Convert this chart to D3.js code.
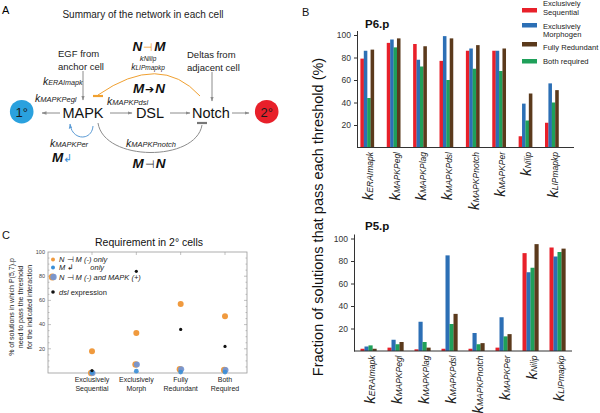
<!DOCTYPE html>
<html><head><meta charset="utf-8">
<script src="https://cdn.jsdelivr.net/npm/d3@7"></script>
<style>body{margin:0;background:#fff} svg{display:block} text{font-family:"Liberation Sans",Arial,sans-serif}</style>
</head><body><svg id="c" width="600" height="413"></svg>
<script>
// ---------- DATA ----------
const bCategories = ["ERAImapk","MAPKPegl","MAPKPlag","MAPKPdsl","MAPKPnotch","MAPKPer","Nilip","LIPmapkp"];
const bSeriesNames = ["Exclusively Sequential","Exclusively Morphogen","Both required","Fully Redundant"];
const p6Sequential = [79,93,92,77,86,86,10,22];
const p6Morphogen  = [86,96,78,99,88,86,39,57];
const p6Both       = [44,89,72,60,70,68,24,40];
const p6Redundant  = [87,97,90,97,91,88,48,51];
const p5Sequential = [2,3,1.5,2,2,3,87,92];
const p5Morphogen  = [4,10,26,85,16,30,70,84];
const p5Both       = [5,6,8,24,6,13,74,88];
const p5Redundant  = [2,8,3,33,7,15,95,91];
const bTicks = [20,40,60,80,100];
const legendLabels = [["Exclusively","Sequential"],["Exclusively","Morphogen"],["Fully Redundant"],["Both required"]];

const cCategories = [["Exclusively","Sequential"],["Exclusively","Morph"],["Fully","Redundant"],["Both","Required"]];
const cNMonly    = [18,33,57,47];
const cMonly     = [0.5,1.5,0.8,0.8];
const cNMandMAPK = [0,7,3,2.5];
const cDsl       = [2,84,36,22];
const cTicks = [20,40,60,80,100];

// ---------- SETUP ----------
const svg = d3.select("#c");
const defs = svg.append("defs");
function marker(id,color,size){
  defs.append("marker").attr("id",id).attr("viewBox","0 0 10 10").attr("refX",9).attr("refY",5)
    .attr("markerWidth",size).attr("markerHeight",size).attr("orient","auto")
    .append("path").attr("d","M0,1.5L10,5L0,8.5Z").attr("fill",color);
}
marker("ag","#8c8c8c",5);
marker("ab","#5b9bd5",5);

const COL = {red:"#e8202a", blue:"#2c6fb5", green:"#1fa05a", brown:"#5b3a1c"};
const GRAY = "#8c8c8c";

function kText(g, x, y, sub, kSize, subSize, anchor, rotate){
  const t = g.append("text").attr("font-style","italic").attr("fill","#222")
    .attr("text-anchor",anchor||"start");
  if(rotate){ t.attr("transform",`translate(${x},${y}) rotate(-90)`);} else {t.attr("x",x).attr("y",y);}
  t.append("tspan").attr("font-size",kSize).text("k");
  t.append("tspan").attr("font-size",subSize).text(sub);
  return t;
}

// ---------- PANEL A ----------
const A = svg.append("g");
A.append("text").attr("x",2).attr("y",14).attr("font-size",11).text("A");
A.append("text").attr("x",143).attr("y",18).attr("text-anchor","middle").attr("font-size",10).attr("fill","#222")
  .text("Summary of the network in each cell");

[{x:21.7,c:"#2aa1de",t:"1°"},{x:266.7,c:"#e8202a",t:"2°"}].forEach(d=>{
  A.append("circle").attr("cx",d.x).attr("cy",111.7).attr("r",11.8).attr("fill",d.c);
  A.append("text").attr("x",d.x).attr("y",116.5).attr("text-anchor","middle").attr("font-size",13).attr("fill","#1a1a1a").text(d.t);
});
[{t:"MAPK",x:83},{t:"DSL",x:150},{t:"Notch",x:211}].forEach(d=>{
  A.append("text").attr("x",d.x).attr("y",118).attr("text-anchor","middle").attr("font-size",14.5).attr("fill","#111").text(d.t);
});
[[60,113,42,113],[110,113,132,113],[170,113,190,113],[232,113,249,113],[83,71,83,100],[212,72,212,101]].forEach(a=>{
  A.append("line").attr("x1",a[0]).attr("y1",a[1]).attr("x2",a[2]).attr("y2",a[3])
    .attr("stroke",GRAY).attr("stroke-width",1).attr("marker-end","url(#ag)");
});
A.append("path").attr("d","M200,96 Q160,52 98,95").attr("fill","none").attr("stroke","#f0a030").attr("stroke-width",1);
A.append("line").attr("x1",93).attr("x2",103).attr("y1",96).attr("y2",96).attr("stroke","#f0a030").attr("stroke-width",2.2);
A.append("path").attr("d","M98,123 C104,162 196,162 202,125").attr("fill","none").attr("stroke",GRAY).attr("stroke-width",1);
A.append("line").attr("x1",197).attr("x2",207).attr("y1",123).attr("y2",123).attr("stroke","#777").attr("stroke-width",2.2);
A.append("path").attr("d","M93,126 C92,141 72,141 70,124").attr("fill","none").attr("stroke","#5b9bd5").attr("stroke-width",1).attr("marker-end","url(#ab)");

A.append("text").attr("x",58).attr("y",57).attr("font-size",9.5).attr("fill","#222").text("EGF from");
A.append("text").attr("x",58).attr("y",70).attr("font-size",9.5).attr("fill","#222").text("anchor cell");
A.append("text").attr("x",187).attr("y",58).attr("font-size",9.5).attr("fill","#222").text("Deltas from");
A.append("text").attr("x",187).attr("y",71).attr("font-size",9.5).attr("fill","#222").text("adjacent cell");
kText(A,43,85,"ERAImapk",10.5,7.2,"start");
kText(A,35,102,"MAPKPegl",10.5,7.5,"start");
kText(A,107,105,"MAPKPdsl",10.5,7.5,"start");
kText(A,151,147,"MAPKPnotch",10.5,7.5,"middle");
kText(A,69,147,"MAPKPer",10.5,7.5,"middle");
kText(A,148,61,"Nilip",8,6.5,"middle");
kText(A,148,70,"LIPmapkp",8.5,6.5,"middle");

function rel(g, x, y, a, sym, b, symColor){
  const t = g.append("text").attr("x",x).attr("y",y).attr("text-anchor","middle")
    .attr("font-size",13.5).attr("font-weight","bold").attr("font-style","italic").attr("fill","#111");
  t.append("tspan").text(a);
  t.append("tspan").attr("fill",symColor).attr("font-weight","normal").attr("font-style","normal").attr("font-size",11).attr("dx",1).text(sym);
  t.append("tspan").attr("dx",1).text(b);
}
rel(A,149,51,"N","⊣","M","#f0a030");
rel(A,149,93,"M","➔","N","#111");
rel(A,149,168,"M","⊣","N","#333");
const mt = A.append("text").attr("x",52).attr("y",162).attr("font-size",13.5).attr("font-weight","bold").attr("font-style","italic").attr("fill","#111");
mt.append("tspan").text("M");
mt.append("tspan").attr("fill","#3a8fd8").attr("font-weight","normal").attr("font-style","normal").attr("font-size",11).text("↲");

// ---------- PANEL B ----------
const B = svg.append("g");
B.append("text").attr("x",302).attr("y",16).attr("font-size",11).attr("fill","#111").text("B");
B.append("text").attr("transform","translate(323,217) rotate(-90)").attr("text-anchor","middle")
  .attr("font-size",14.5).attr("fill","#111").text("Fraction of solutions that pass each threshold (%)");

const legColors = [COL.red, COL.blue, COL.brown, COL.green];
const legSw = [8,23,42,59];
const legTxt = [[5.5,15],[28.5,37],[49.5],[64]];
legendLabels.forEach((lines,i)=>{
  B.append("rect").attr("x",522).attr("y",legSw[i]).attr("width",15).attr("height",4.5).attr("fill",legColors[i]);
  lines.forEach((l,j)=>{
    B.append("text").attr("x",543).attr("y",legTxt[i][j]).attr("font-size",7.6).attr("fill","#222").text(l);
  });
});

function barChart(opts){
  const g = B.append("g");
  const y = d3.scaleLinear().domain([0,104]).range([opts.y0, opts.y0 - 104*1.125]);
  const x0 = d3.scaleBand().domain(bCategories).range(opts.xr);
  const x1 = d3.scaleBand().domain(bSeriesNames).range([0, opts.gw]);
  const series = opts.series;
  const colors = [COL.red, COL.blue, COL.green, COL.brown];
  bCategories.forEach((c,ci)=>{
    const gx = x0(c) + x0.bandwidth()/2 - opts.gw/2;
    series.forEach((s,si)=>{
      g.append("rect").attr("x", gx + x1(bSeriesNames[si])).attr("width", x1.bandwidth()+0.15)
        .attr("y", y(s[ci])).attr("height", y(0)-y(s[ci])).attr("fill", colors[si]);
    });
  });
  const ax = g.append("g").attr("transform",`translate(${opts.ax},0)`)
    .call(d3.axisLeft(y).tickValues(bTicks).tickSize(3).tickSizeOuter(0));
  ax.select(".domain").attr("stroke","#333");
  ax.selectAll(".tick line").attr("stroke","#333");
  ax.selectAll(".tick text").attr("font-size",8.5).attr("fill","#333").attr("font-family",'"Liberation Sans",Arial,sans-serif');
  g.append("line").attr("x1",opts.ax).attr("x2",opts.axEnd).attr("y1",y(0)).attr("y2",y(0)).attr("stroke","#333").attr("stroke-width",1);
  bCategories.forEach(c=>{
    kText(g, x0(c)+x0.bandwidth()/2+6, y(0)+4.5, c, 15, 8.5, "end", true);
  });
  g.append("text").attr("x",opts.titleX).attr("y",opts.titleY).attr("font-size",11.5).attr("font-weight","bold").attr("fill","#111").text(opts.title);
}
barChart({y0:147.5, xr:[354,565], gw:13.6, ax:357, axEnd:574, series:[p6Sequential,p6Morphogen,p6Both,p6Redundant], title:"P6.p", titleX:365, titleY:28});
barChart({y0:351, xr:[355,571], gw:16, ax:354, axEnd:572, series:[p5Sequential,p5Morphogen,p5Both,p5Redundant], title:"P5.p", titleX:365, titleY:230});

// ---------- PANEL C ----------
const C = svg.append("g");
C.append("text").attr("x",2).attr("y",239).attr("font-size",11).attr("fill","#111").text("C");
C.append("text").attr("x",149).attr("y",246).attr("text-anchor","middle").attr("font-size",10.5).attr("fill","#111").text("Requirement in 2° cells");
const cy = d3.scaleLinear().domain([0,100]).range([373,252]);
const cx = d3.scalePoint().domain(d3.range(cCategories.length)).range([92,225]);
const fx0 = 48, fx1 = 247;
C.append("rect").attr("x",fx0).attr("y",cy(100)).attr("width",fx1-fx0).attr("height",cy(0)-cy(100))
  .attr("fill","none").attr("stroke","#999").attr("stroke-width",0.8);
d3.range(5,100,5).forEach(v=>{
  const major = v%20===0, len = major?3:1.5;
  C.append("line").attr("x1",fx0).attr("x2",fx0+len).attr("y1",cy(v)).attr("y2",cy(v)).attr("stroke","#999").attr("stroke-width",0.6);
  C.append("line").attr("x1",fx1).attr("x2",fx1-len).attr("y1",cy(v)).attr("y2",cy(v)).attr("stroke","#999").attr("stroke-width",0.6);
});
cTicks.forEach(v=>{
  C.append("text").attr("x",45).attr("y",cy(v)+1.8).attr("text-anchor","end").attr("font-size",5.5).attr("fill","#444").text(v);
});
cCategories.forEach((lines,i)=>{
  C.append("line").attr("x1",cx(i)).attr("x2",cx(i)).attr("y1",cy(0)).attr("y2",cy(0)-3).attr("stroke","#999").attr("stroke-width",0.6);
  C.append("line").attr("x1",cx(i)).attr("x2",cx(i)).attr("y1",cy(100)).attr("y2",cy(100)+3).attr("stroke","#999").attr("stroke-width",0.6);
  lines.forEach((l,j)=>{
    C.append("text").attr("x",cx(i)).attr("y",382+j*9).attr("text-anchor","middle").attr("font-size",7).attr("fill","#222").text(l);
  });
});
["% of solutions in which P(5,7).p","need to pass the threshold","for the indicated interaction"].forEach((l,i)=>{
  C.append("text").attr("transform",`translate(${14+i*9},307) rotate(-90)`).attr("text-anchor","middle")
    .attr("font-size",7).attr("fill","#222").text(l);
});
const ORANGE = "#f09a3e", BLUE = "#3a8fd8", MIXB = "#6f95d8";
function mixDot(g,x,y,r){
  g.append("circle").attr("cx",x-0.7).attr("cy",y).attr("r",r).attr("fill",ORANGE);
  g.append("circle").attr("cx",x+0.5).attr("cy",y).attr("r",r*0.92).attr("fill",MIXB).attr("opacity",0.9);
}
cNMandMAPK.forEach((v,i)=>mixDot(C,cx(i),cy(v),3.3));
cMonly.forEach((v,i)=>C.append("circle").attr("cx",cx(i)).attr("cy",cy(v)).attr("r",2.4).attr("fill",BLUE).attr("opacity",0.9));
cNMonly.forEach((v,i)=>C.append("circle").attr("cx",cx(i)).attr("cy",cy(v)).attr("r",3).attr("fill",ORANGE));
cDsl.forEach((v,i)=>C.append("circle").attr("cx",cx(i)).attr("cy",cy(v)).attr("r",1.6).attr("fill","#111"));

C.append("circle").attr("cx",53).attr("cy",259.5).attr("r",2).attr("fill",ORANGE);
C.append("circle").attr("cx",53).attr("cy",267.5).attr("r",2).attr("fill",BLUE);
mixDot(C,53,277,3.5);
C.append("circle").attr("cx",53).attr("cy",292).attr("r",1.8).attr("fill","#111");
function cleg(y, parts){
  const t = C.append("text").attr("x",59).attr("y",y).attr("font-size",7.5).attr("font-style","italic").attr("fill","#222");
  parts.forEach(p=>{ const s=t.append("tspan").text(p[0]); if(p[1]) s.attr("fill",p[1]).attr("font-style","normal"); if(p[2]) s.attr("dx",p[2]); });
}
cleg(262,[["N "],["⊣","#222"],[" M (-) only"]]);
cleg(270,[["M "],["↲","#222"],["only",null,16]]);
cleg(279.5,[["N "],["⊣","#222"],[" M (-) and MAPK (+)"]]);
const dl = C.append("text").attr("x",59).attr("y",294.5).attr("font-size",7.5).attr("fill","#222");
dl.append("tspan").attr("font-style","italic").text("dsl");
dl.append("tspan").text(" expression");
</script></body></html>
